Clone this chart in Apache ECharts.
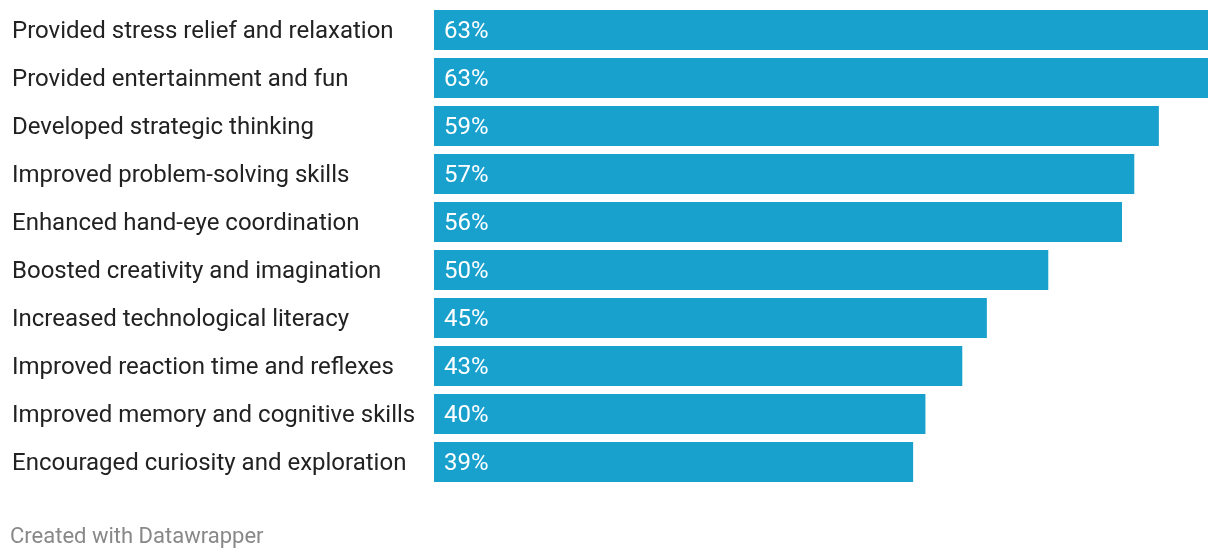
<!DOCTYPE html>
<html><head><meta charset="utf-8">
<script src="https://cdn.jsdelivr.net/npm/echarts@6/dist/echarts.min.js"></script>
<style>html,body{margin:0;padding:0;background:#fff}#c{width:1220px;height:558px}</style>
</head><body><div id="c"></div>
<script>
const categories = [
  "Provided stress relief and relaxation",
  "Provided entertainment and fun",
  "Developed strategic thinking",
  "Improved problem-solving skills",
  "Enhanced hand-eye coordination",
  "Boosted creativity and imagination",
  "Increased technological literacy",
  "Improved reaction time and reflexes",
  "Improved memory and cognitive skills",
  "Encouraged curiosity and exploration"
];
const values = [63, 63, 59, 57, 56, 50, 45, 43, 40, 39];

const chart = echarts.init(document.getElementById('c'));
chart.setOption({
  animation: false,
  grid: {left: 434, top: 6, width: 774, height: 480, containLabel: false},
  xAxis: {type: 'value', min: 0, max: 63, show: false},
  yAxis: {
    type: 'category', data: categories, inverse: true,
    axisLine: {show: false}, axisTick: {show: false},
    axisLabel: {align: 'left', margin: 422, formatter: v => '{a|' + v + '}',
      rich: {a: {fontFamily: 'Roboto', fontSize: 24, color: '#222', padding: [4, 0, 0, 0]}}}
  },
  series: [{
    type: 'bar', data: values, barCategoryGap: '16.7%',
    itemStyle: {color: '#18a1cd'},
    label: {show: true, position: 'insideLeft', distance: 10, offset: [0, 2], formatter: p => p.value + '%',
      fontFamily: 'Roboto', fontSize: 24, color: '#fff'}
  }],
  graphic: [{type: 'text', left: 10, top: 526, style: {text: 'Created with Datawrapper', fontFamily: 'Roboto', fontSize: 22, fill: '#888'}}]
});
</script></body></html>
